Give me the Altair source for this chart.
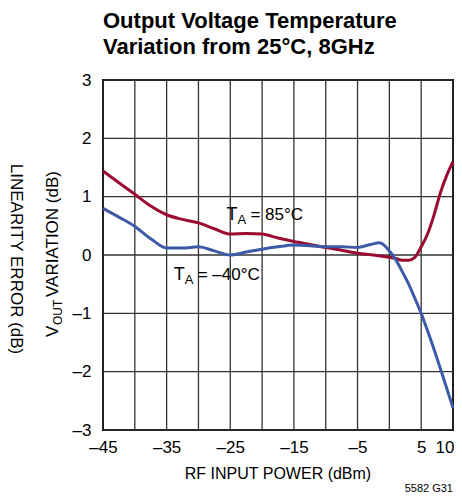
import altair as alt
import pandas as pd

# ---- data ----
x_hot = [-45, -42.5, -40, -37.5, -35, -32.5, -30, -27.5, -25, -22.5, -20, -17.5, -15,
         -12.5, -10, -7.5, -5, -2.5, 0, 1, 2, 3, 4, 5, 6, 7, 8, 9, 10]
y_hot = [1.44, 1.24, 1.04, 0.84, 0.69, 0.61, 0.55, 0.45, 0.36, 0.37, 0.36, 0.29, 0.23,
         0.18, 0.13, 0.08, 0.03, 0.0, -0.04, -0.06, -0.09, -0.09, -0.04, 0.14, 0.36, 0.68,
         1.06, 1.36, 1.6]

x_cold = [-45, -42.5, -40, -37.5, -35, -32.5, -30, -27.5, -25, -22.5, -20, -17.5, -15,
          -12.5, -10, -7.5, -5, -3, -1.5, 0, 1, 2, 3, 4, 5, 6, 7, 8, 9, 10]
y_cold = [0.80, 0.65, 0.49, 0.28, 0.12, 0.12, 0.14, 0.07, 0.0, 0.05, 0.10, 0.14, 0.17,
          0.16, 0.14, 0.14, 0.13, 0.18, 0.21, 0.07, -0.08, -0.28, -0.49, -0.74, -1.0,
          -1.3, -1.61, -1.94, -2.28, -2.62]

series_names = ["85", "-40"]
series_colors = ["#9b0a30", "#3d5aa8"]

x_ticks = list(range(-45, 11, 5))
x_labeled = [-45, -35, -25, -15, -5, 5, 10]
y_ticks = [-3, -2, -1, 0, 1, 2, 3]

title_lines = ["Output Voltage Temperature", "Variation from 25°C, 8GHz"]
x_title = "RF INPUT POWER (dBm)"

# annotations (data coordinates of the "T")
ann_x = [-25.6, -33.9]
ann_y = [0.6, -0.43]
ann_rest = ["= 85°C", "= –40°C"]

FONT = "'Liberation Sans', Arial, sans-serif"

df = pd.concat([
    pd.DataFrame({"x": x_hot, "y": y_hot, "s": series_names[0]}),
    pd.DataFrame({"x": x_cold, "y": y_cold, "s": series_names[1]}),
])
ann = pd.DataFrame({"x": ann_x, "y": ann_y, "rest": ann_rest})

xs = alt.Scale(domain=[-45, 10], nice=False, zero=False)
ys = alt.Scale(domain=[-3, 3], nice=False, zero=False)

lbl_expr_x = ("indexof(" + str(x_labeled) + ", datum.value) >= 0 ? "
              "(datum.value < 0 ? '–' + abs(datum.value) : '' + datum.value) : ''")
lbl_expr_y = "datum.value < 0 ? '–' + abs(datum.value) : '' + datum.value"

AX = alt.Axis(values=x_ticks, labelExpr=lbl_expr_x, title=None, grid=False,
              ticks=False, domain=False, labelPadding=9, labelFontSize=17,
              labelFont=FONT, labelColor="black", labelFlush=False,
              labelOverlap=False, labelBound=False,
              labelAlign={"expr": "datum.value == 10 ? 'right' : 'center'"},
              labelOffset={"expr": "datum.value == 10 ? 1 : 0"})
AY = alt.Axis(values=y_ticks, labelExpr=lbl_expr_y, title=None, grid=False,
              ticks=False, domain=False, labelPadding=12, labelFontSize=17,
              labelFont=FONT, labelColor="black", labelOverlap=False, labelBound=False)

X = lambda f: alt.X(f, scale=xs, axis=AX)
Y = lambda f: alt.Y(f, scale=ys, axis=AY)

# grid as rules
vgrid = alt.Chart(pd.DataFrame({"x": x_ticks})).mark_rule(
    color="#333333", strokeWidth=1.3).encode(x=X("x:Q"))
hgrid = alt.Chart(pd.DataFrame({"y": y_ticks})).mark_rule(
    color="#333333", strokeWidth=1.3).encode(y=Y("y:Q"))

lines = alt.Chart(df).mark_line(strokeWidth=3, interpolate="monotone").encode(
    x=X("x:Q"),
    y=Y("y:Q"),
    color=alt.Color("s:N", scale=alt.Scale(domain=series_names, range=series_colors),
                    legend=None),
    detail="s:N",
)

base_ann = alt.Chart(ann).encode(x=X("x:Q"), y=Y("y:Q"))
t_main = base_ann.mark_text(align="left", baseline="alphabetic", fontSize=18, font=FONT,
                            color="black").encode(text=alt.value("T"))
t_sub = base_ann.mark_text(align="left", baseline="alphabetic", fontSize=13, font=FONT,
                           color="black", dx=11, dy=4).encode(text=alt.value("A"))
t_rest = base_ann.mark_text(align="left", baseline="alphabetic", fontSize=17, font=FONT,
                            color="black", dx=24).encode(text="rest:N")

# axis titles and footnote placed around the plot
def ptext(txt, x, y, size, angle=0, align="left", baseline="alphabetic"):
    return alt.Chart(pd.DataFrame({"t": [txt]})).mark_text(
        align=align, baseline=baseline, fontSize=size, font=FONT, angle=angle,
        color="black").encode(text="t:N", x=alt.value(x), y=alt.value(y))

xt = ptext(x_title, 175, 399, 16, align="center")
foot = ptext("5582 G31", 350, 412, 11, align="right")
lin = ptext("LINEARITY ERROR (dB)", -92, 179, 17, angle=90, align="center")
v1 = ptext("V", -45, 257, 17, angle=270)
v2 = ptext("OUT", -41, 245, 12, angle=270)
v3 = ptext("VARIATION (dB)", -45, 217, 17, angle=270)

chart = alt.layer(vgrid, hgrid, lines, t_main, t_sub, t_rest, xt, foot, lin, v1, v2, v3
                  ).properties(
    width=350, height=350,
    title=alt.TitleParams(title_lines, anchor="start", frame="group", fontSize=22,
                          font=FONT, fontWeight="bold", lineHeight=26, offset=12,
                          color="black"),
    autosize=alt.AutoSizeParams(type="none"),
    padding={"left": 95, "top": 72, "right": 1, "bottom": 65},
).configure_view(stroke="black", strokeWidth=2)

chart.save("out.html", embed_options={"renderer": "svg", "actions": False})
